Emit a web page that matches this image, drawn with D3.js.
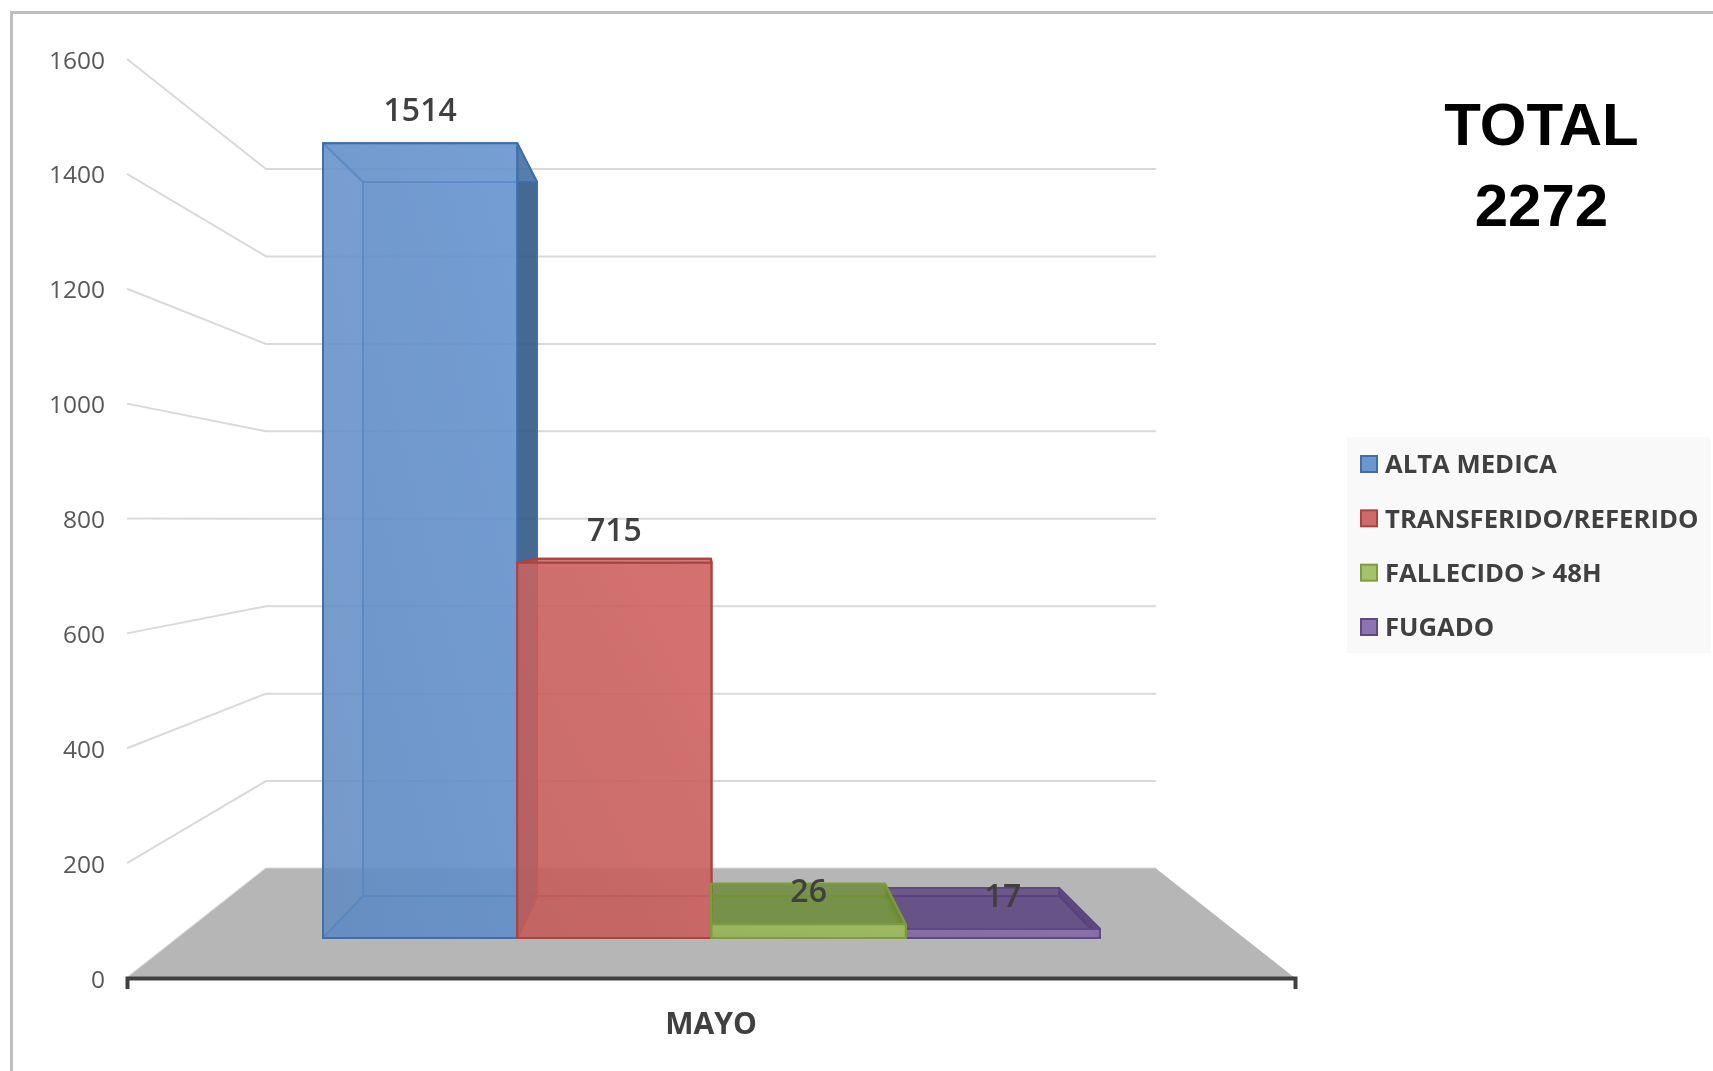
<!DOCTYPE html>
<html><head><meta charset="utf-8">
<script src="https://cdn.jsdelivr.net/npm/d3@7/dist/d3.min.js"></script>
<style>html,body{margin:0;padding:0;background:#fff;overflow:hidden}svg{display:block;filter:blur(.6px)}</style>
</head><body><svg id="c" width="1713" height="1071"></svg>
<script>
const categories = ["MAYO"];
const seriesNames = ["ALTA MEDICA","TRANSFERIDO/REFERIDO","FALLECIDO > 48H","FUGADO"];
const seriesValues = [1514,715,26,17];
const yTicks = [0,200,400,600,800,1000,1200,1400,1600];
const titleLines = ["TOTAL","2272"];
const drawOrder = [0,1,3,2];
const edgeColors = ["#3f6ea8","#a84442","#7d9c3f","#5f4a80"];
const swatchColors = ["#6d97cc","#cc6b6a","#a5c26a","#8e72b2"];
const faceFront = ["#6590c8","#c96361","#9dbb60","#8a6fab"];
const faceBack  = ["#5585c4","#c05250","#66872c","#54397a"];
const faceSide  = ["#2f5580","#8c3533","#7a983f","#54397a"];

const svg = d3.select("#c");
const W = 1713, H = 1071;
const axisFont = "'Open Sans',sans-serif";

// frame
svg.append("path").attr("d",`M11.5,${H}V12.5H${W}`).attr("fill","none").attr("stroke","#bfbfbf").attr("stroke-width",3);

// wall/floor geometry scales
const yWall  = d3.scaleLinear().domain([0,1600]).range([978,59]);
const yBackW = d3.scaleLinear().domain([0,1600]).range([868.5,169]);
const yFront = d3.scaleLinear().domain([0,1600]).range([938,98]);
const yBack  = d3.scaleLinear().domain([0,1600]).range([896,141.5]);
const xFront = d3.scaleBand().domain(seriesNames).range([323,1100]);
const xBack  = d3.scaleBand().domain(seriesNames).range([363,1059]);
const xCat   = d3.scaleBand().domain(categories).range([127,1295]);

const wallL = 127, wallB = 266, wallR = 1156, floorR = 1295;
const line = d3.line();

// gridlines
svg.append("g").selectAll("path").data(yTicks).join("path")
  .attr("d",d=>line([[wallL,yWall(d)],[wallB,yBackW(d)],[wallR,yBackW(d)]]))
  .attr("fill","none").attr("stroke","#d9d9d9").attr("stroke-width",2);

// floor
svg.append("path").attr("d",line([[wallB,yBackW(0)],[wallR,yBackW(0)],[floorR,yWall(0)],[wallL,yWall(0)]])+"Z").attr("fill","#b6b6b6");

// axes
const gy = svg.append("g").attr("transform",`translate(${wallL},0)`)
  .call(d3.axisLeft(yWall).tickValues(yTicks).tickFormat(d3.format("d")).tickSize(0).tickPadding(22));
gy.select(".domain").remove();
gy.selectAll("text").attr("font-family",axisFont).attr("font-size",24.5).attr("fill","#595959").attr("dy","0.37em");

const gx = svg.append("g").attr("transform",`translate(0,${yWall(0)})`)
  .call(d3.axisBottom(xCat).tickSizeInner(0).tickSizeOuter(11).tickPadding(35));
gx.select(".domain").attr("stroke","#404040").attr("stroke-width",4);
gx.selectAll("text").attr("font-family",axisFont).attr("font-size",30).attr("font-weight",700).attr("fill","#404040");

// gradients for front faces
const defs = svg.append("defs");
seriesNames.forEach((s,i)=>{
  const g = defs.append("linearGradient").attr("id","g"+i).attr("x1",0).attr("y1",1).attr("x2",1).attr("y2",0);
  g.append("stop").attr("offset",0).attr("stop-color",d3.color(faceFront[i]).darker(.08));
  g.append("stop").attr("offset",1).attr("stop-color",d3.color(faceFront[i]).brighter(.12));
});

// 3D bars
drawOrder.forEach(i=>{
  const s = seriesNames[i], v = seriesValues[i];
  const fl = xFront(s), fr = fl+xFront.bandwidth();
  const bl = xBack(s),  br = bl+xBack.bandwidth();
  const f0 = yFront(0), ft = yFront(v), b0 = yBack(0), bt = yBack(v);
  const g = svg.append("g").attr("stroke",edgeColors[i]).attr("stroke-width",2).attr("stroke-linejoin","round");
  const face = (pts,fill,op)=>g.append("path").attr("d",line(pts)+"Z").attr("fill",fill).attr("fill-opacity",op);
  // back, floor, left, then right, top, front
  face([[bl,bt],[br,bt],[br,b0],[bl,b0]],faceBack[i],.55);
  face([[fl,f0],[fr,f0],[br,b0],[bl,b0]],faceBack[i],.62);
  face([[fl,ft],[bl,bt],[bl,b0],[fl,f0]],faceBack[i],.3);
  face([[fr,ft],[br,bt],[br,b0],[fr,f0]],faceSide[i],.8);
  face([[fl,ft],[fr,ft],[br,bt],[bl,bt]],faceBack[i],.45);
  face([[fl,ft],[fr,ft],[fr,f0],[fl,f0]],`url(#g${i})`,.82);
});

// data labels
svg.append("g").selectAll("text").data(seriesNames).join("text")
  .attr("x",d=>xFront(d)+xFront.bandwidth()/2)
  .attr("y",(d,i)=>yFront(seriesValues[i])-22)
  .attr("text-anchor","middle").attr("font-family",axisFont).attr("font-size",32).attr("font-weight",600).attr("fill","#404040")
  .text((d,i)=>seriesValues[i]);

// title
svg.append("g").selectAll("text").data(titleLines).join("text")
  .attr("x",1541.5).attr("y",(d,i)=>145+i*81)
  .attr("text-anchor","middle").attr("font-family","'Liberation Sans',Arial,sans-serif").attr("font-weight",700).attr("font-size",60).attr("fill","#000")
  .text(d=>d);

// legend
const legY = d3.scalePoint().domain(seriesNames).range([464,627]);
const leg = svg.append("g");
leg.append("rect").attr("x",1347).attr("y",437).attr("width",364).attr("height",216).attr("fill","#f9f9f9");
const row = leg.selectAll("g").data(seriesNames).join("g").attr("transform",d=>`translate(0,${legY(d)})`);
row.append("rect").attr("x",1361).attr("y",-8).attr("width",16).attr("height",16)
  .attr("fill",(d,i)=>swatchColors[i]).attr("stroke",(d,i)=>edgeColors[i]).attr("stroke-width",2);
row.append("text").attr("x",1385).attr("dy","0.36em").attr("font-family",axisFont).attr("font-size",25.7).attr("font-weight",700).attr("fill","#404040").text(d=>d);
</script></body></html>
